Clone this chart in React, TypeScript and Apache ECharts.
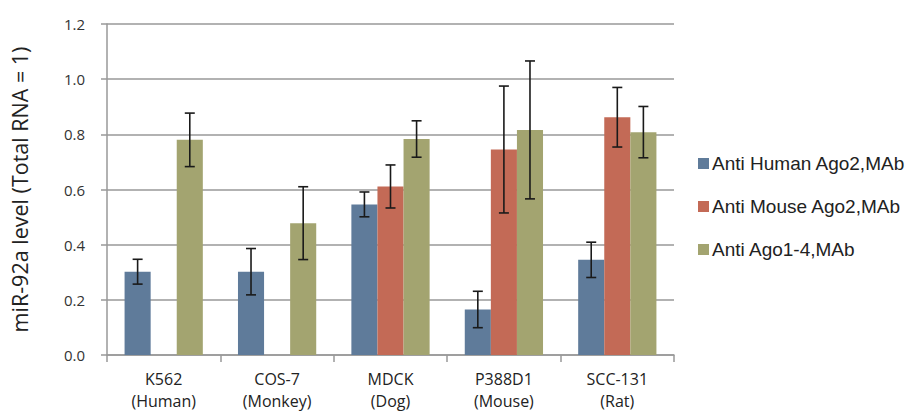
import React, { useEffect, useRef } from "react";
import * as echarts from "echarts";

const categories = ["K562\n(Human)", "COS-7\n(Monkey)", "MDCK\n(Dog)", "P388D1\n(Mouse)", "SCC-131\n(Rat)"];
const seriesNames = ["Anti Human Ago2,MAb", "Anti Mouse Ago2,MAb", "Anti Ago1-4,MAb"];
const humanAgo2 = [0.302, 0.302, 0.546, 0.165, 0.345];
const mouseAgo2: (number | null)[] = [null, null, 0.611, 0.745, 0.862];
const ago14 = [0.78, 0.478, 0.783, 0.816, 0.808];
const humanAgo2Err = [0.045, 0.084, 0.045, 0.066, 0.064];
const mouseAgo2Err: (number | null)[] = [null, null, 0.078, 0.23, 0.108];
const ago14Err = [0.097, 0.132, 0.066, 0.25, 0.093];
const colors = ["#5F7B9A", "#C36A56", "#A3A470"];

const values = [humanAgo2, mouseAgo2, ago14];
const errors = [humanAgo2Err, mouseAgo2Err, ago14Err];

const GAP = 0.31;

export default function App() {
  const ref = useRef<HTMLDivElement>(null);
  useEffect(() => {
    const chart = echarts.init(ref.current!, null, { renderer: "svg" });
    const errData: any[] = [];
    values.forEach((vals, s) => {
      vals.forEach((v, i) => {
        const e = errors[s][i];
        if (v != null && e != null) errData.push([i, v - e, v + e, s]);
      });
    });
    const barSeries = values.map((vals, s) => ({
      name: seriesNames[s],
      type: "bar",
      data: vals.map((v) => (v == null ? "-" : v)),
      barGap: "0%",
      barCategoryGap: GAP * 100 + "%",
      itemStyle: { color: colors[s] },
    }));
    chart.setOption({
      animation: false,
      textStyle: { fontFamily: "Open Sans" },
      grid: { left: 106, right: 233, top: 24, bottom: 54 },
      legend: {
        orient: "vertical",
        left: 698,
        top: 154,
        padding: 0,
        itemWidth: 11,
        itemHeight: 11,
        itemGap: 24,
        icon: "rect",
        textStyle: { fontFamily: "Liberation Sans", fontSize: 19, color: "#222", padding: [0, 0, 0, -2], overflow: "none" },
        data: seriesNames,
      },
      xAxis: {
        type: "category",
        data: categories,
        axisLine: { lineStyle: { color: "#999", width: 1.5 } },
        axisTick: { show: true, length: 7, lineStyle: { color: "#999", width: 1.5 } },
        axisLabel: { fontSize: 16, color: "#222", lineHeight: 22, margin: 13 },
      },
      yAxis: {
        type: "value",
        min: 0,
        max: 1.2,
        interval: 0.2,
        name: "miR-92a level (Total RNA = 1)",
        nameLocation: "middle",
        nameGap: 77,
        nameTextStyle: { fontSize: 21.5, color: "#222" },
        axisLine: { show: true, lineStyle: { color: "#999", width: 1.5 } },
        axisTick: { show: true, length: 6, lineStyle: { color: "#999", width: 1.5 } },
        axisLabel: { fontSize: 15, color: "#333", margin: 22, formatter: (v: number) => v.toFixed(1) },
        splitLine: { lineStyle: { color: "#999", width: 1.5 } },
      },
      series: [
        ...barSeries,
        {
          type: "custom",
          name: "err",
          data: errData,
          z: 10,
          renderItem: (params: any, api: any) => {
            const idx = api.value(0);
            const lo = api.value(1);
            const hi = api.value(2);
            const s = api.value(3);
            const band = api.size([1, 0])[0];
            const bw = (band * (1 - GAP)) / 3;
            const center = api.coord([idx, 0])[0];
            const x = center + (s - 1) * bw;
            const yTop = api.coord([idx, hi])[1];
            const yBot = api.coord([idx, lo])[1];
            const cap = 5;
            const style = { stroke: "#1a1a1a", lineWidth: 1.6 };
            return {
              type: "group",
              children: [
                { type: "line", shape: { x1: x, y1: yTop, x2: x, y2: yBot }, style },
                { type: "line", shape: { x1: x - cap, y1: yTop, x2: x + cap, y2: yTop }, style },
                { type: "line", shape: { x1: x - cap, y1: yBot, x2: x + cap, y2: yBot }, style },
              ],
            };
          },
        },
      ],
    });
    return () => chart.dispose();
  }, []);
  return (
    <div
      ref={ref}
      style={{ position: "fixed", left: 0, top: 0, width: 907, height: 412, background: "#fff" }}
    />
  );
}
